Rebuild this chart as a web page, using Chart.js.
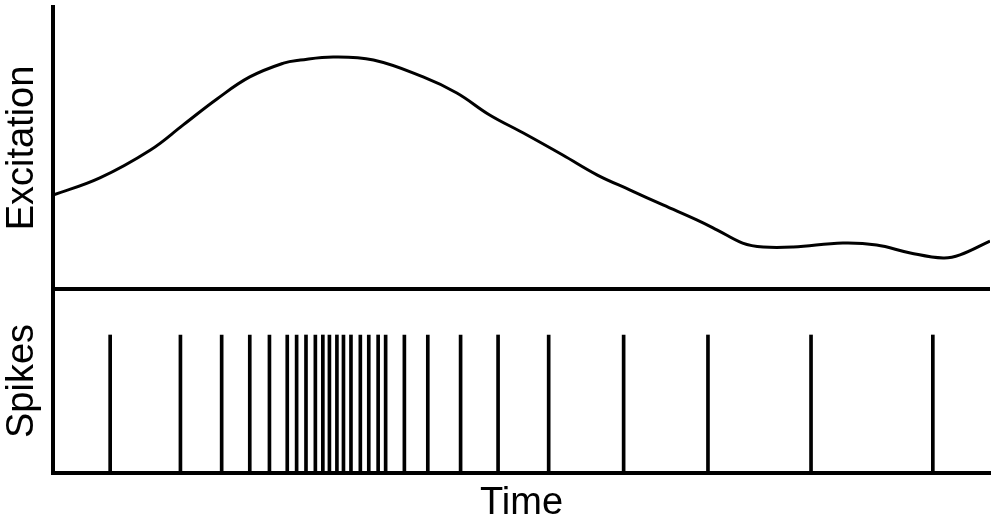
<!DOCTYPE html>
<html>
<head>
<meta charset="utf-8">
<script src="https://cdn.jsdelivr.net/npm/chart.js@4/dist/chart.umd.min.js"></script>
<style>
    html, body { margin: 0; padding: 0; background: #fff; }
    #wrap { width: 1000px; height: 521px; }
</style>
</head>
<body>
<div id="wrap"><canvas id="spikeChart"></canvas></div>
<script>
// --- Data ---
// excitation curve (time, level 0-100 in the upper panel)
const curveTimes = [0, 50, 104, 139, 175, 210, 246, 264, 299, 342, 395, 431, 466, 502, 544, 581, 616, 651, 687, 709, 736, 758, 790, 843, 879, 915, 950, 968, 1000];
const curveLevels = [33.3, 39.4, 49.3, 58.2, 67.4, 75.2, 80.1, 81.2, 82.3, 81.2, 75.2, 69.5, 61.7, 55.3, 47.5, 40.4, 35.1, 29.8, 24.5, 20.9, 16.3, 14.9, 14.9, 16.3, 15.6, 12.8, 11.0, 12.1, 17.0];

// spike times, same time units
const spikeTimes = [61, 136, 180, 210, 231, 250, 260, 270, 280, 288, 295, 303, 310, 318, 328, 337, 347, 355, 375, 400, 435, 475, 529, 609, 699, 809, 939];
const spikeHeight = 0.75;

const fontFamily = '"Liberation Sans", Arial, sans-serif';

// build the {x, y} points from the arrays
const curvePoints = curveTimes.map((t, i) => ({ x: t, y: curveLevels[i] }));
const spikePoints = spikeTimes.map(t => ({ x: t, y: spikeHeight }));

const ctx = document.getElementById('spikeChart').getContext('2d');

new Chart(ctx, {
    type: 'line',
    data: {
        datasets: [
            {
                label: 'Excitation',
                data: curvePoints,
                yAxisID: 'yExc',
                borderColor: '#000',
                borderWidth: 3,
                pointRadius: 0,
                tension: 0.4,
                fill: false
            },
            {
                type: 'bar',
                label: 'Spikes',
                data: spikePoints,
                yAxisID: 'ySpk',
                backgroundColor: '#000',
                borderWidth: 0,
                barThickness: 3,
                grouped: false
            }
        ]
    },
    options: {
        responsive: true,
        maintainAspectRatio: false,
        animation: false,
        layout: { padding: { top: 7, right: 10, left: 0, bottom: 0 } },
        plugins: {
            legend: { display: false },
            tooltip: { enabled: false }
        },
        scales: {
            x: {
                type: 'linear',
                min: 0,
                max: 1000,
                offset: false,
                grid: { display: false },
                ticks: { display: false },
                border: { display: true, color: '#000', width: 4 },
                title: {
                    display: true,
                    text: 'Time',
                    color: '#000',
                    font: { family: fontFamily, size: 38 },
                    padding: { top: 0, bottom: -5 }
                },
                afterFit: scale => { scale.height = 48; }
            },
            // the first axis of the stack goes at the bottom
            ySpk: {
                type: 'linear',
                position: 'left',
                stack: 'panels',
                stackWeight: 184,
                min: 0,
                max: 1,
                ticks: { display: false },
                grid: { display: false },
                border: { display: true, color: '#000', width: 4 },
                title: {
                    display: true,
                    text: 'Spikes',
                    color: '#000',
                    font: { family: fontFamily, size: 38 },
                    padding: { top: 0, bottom: 8 }
                },
                afterFit: scale => { scale.width = 53; }
            },
            yExc: {
                type: 'linear',
                position: 'left',
                stack: 'panels',
                stackWeight: 282,
                min: 0,
                max: 100,
                ticks: { display: false, stepSize: 100 },
                grid: {
                    drawTicks: false,
                    // only the bottom line of the upper panel is shown, as the divider
                    color: c => (c.tick && c.tick.value === 0) ? '#000' : 'rgba(0,0,0,0)',
                    lineWidth: 4
                },
                border: { display: true, color: '#000', width: 4 },
                title: {
                    display: true,
                    text: 'Excitation',
                    color: '#000',
                    font: { family: fontFamily, size: 38 },
                    padding: { top: 0, bottom: 8 }
                },
                afterFit: scale => { scale.width = 53; }
            }
        }
    }
});
</script>
</body>
</html>
